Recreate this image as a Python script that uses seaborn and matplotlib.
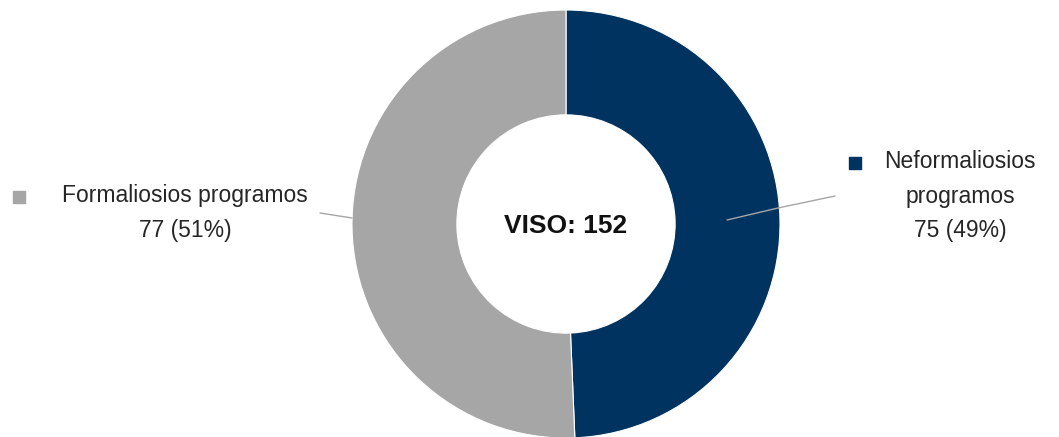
import matplotlib
matplotlib.use("Agg")
import matplotlib.pyplot as plt
import seaborn as sns

# data
categories = ["Neformaliosios\nprogramos", "Formaliosios programos"]
values = [75, 77]
percents = [49, 51]
colors = ["#00335F", "#A6A6A6"]
total = sum(values)

sns.set_theme(style="white")
plt.rcParams["font.family"] = ["Liberation Sans", "DejaVu Sans"]

fig = plt.figure(figsize=(10.59, 4.37), dpi=100)
ax = fig.add_axes([0, 0, 1, 1])

cx, cy, r = 566, 437 - 224, 214
ax.pie(values, colors=colors, startangle=90, counterclock=False,
       center=(cx, cy), radius=r, frame=True,
       wedgeprops=dict(width=r * 0.49, edgecolor="white", linewidth=0.8))
ax.set_xlim(0, 1059)
ax.set_ylim(0, 437)
ax.set_aspect("equal")
ax.axis("off")

ax.text(cx, 437 - 226, f"VISO: {total}", ha="center", va="center",
        fontsize=19, fontweight="bold", color="#111111")

# leader lines
line_col = "#A6A6A6"
ax.plot([727, 778, 835], [437 - 220, 437 - 208, 437 - 196], color=line_col, lw=1)
ax.plot([320, 352], [437 - 213, 437 - 218], color=line_col, lw=1)

# labels
txt_col = "#262626"
ax.text(960, 437 - 196, f"{categories[0]}\n{values[0]} ({percents[0]}%)",
        ha="center", va="center", fontsize=16.5, color=txt_col, linespacing=1.62)
ax.scatter([855], [437 - 163], marker="s", s=80, color=colors[0])
ax.text(185, 437 - 213, f"{categories[1]}\n{values[1]} ({percents[1]}%)",
        ha="center", va="center", fontsize=16.5, color=txt_col, linespacing=1.62)
ax.scatter([19], [437 - 197], marker="s", s=80, color=colors[1])

fig.savefig("out.png", dpi=100)
